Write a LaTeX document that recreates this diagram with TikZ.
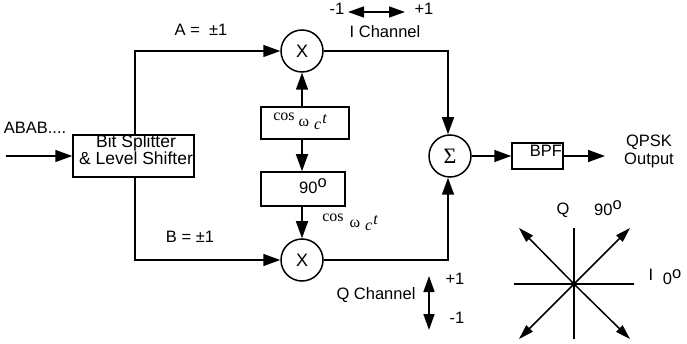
\documentclass[tikz,border=0pt]{standalone}
\usepackage{fontspec}
\setmainfont{Liberation Sans}
\newfontfamily\serifx{Liberation Serif}
\usetikzlibrary{arrows.meta,calc}
\newcommand{\coswc}[1]{{\serifx\fontsize{16}{16}\selectfont cos\hspace{#1}\raisebox{-6pt}{ω}\hspace{5pt}\raisebox{-9pt}{\itshape c}\hspace{1pt}\raisebox{-3pt}{\itshape t}}}
\newcommand{\dego}{\raisebox{5.5pt}{o}}
\tikzset{
  x=1pt,y=-1pt,
  every node/.style={font=\fontsize{16.5}{18}\selectfont},
  conn/.style={line width=1.5pt,-{Stealth[length=17pt,width=12pt,inset=0pt]}},
  dbl/.style={line width=1.5pt,{Stealth[length=16pt,width=11pt,inset=0pt]}-{Stealth[length=16pt,width=11pt,inset=0pt]}},
  ray/.style={line width=1.5pt,-{Stealth[length=15pt,width=9pt,inset=0pt]}},
  plain/.style={line width=1.5pt},
  circ/.style={circle,draw,line width=1.5pt,minimum size=42pt,inner sep=0pt},
  blockb/.style={rectangle,draw,line width=1.5pt,inner sep=0pt},
  lab/.style={inner sep=0pt},
}
\begin{document}
\begin{tikzpicture}
\useasboundingbox (0,0) rectangle (687,344);
\fill[white] (0,0) rectangle (687,344);
% blocks
\node[blockb,minimum width=121pt,minimum height=42pt] (split) at (133.5,156) {};
\node[lab,align=center,font=\fontsize{17.5}{18}\selectfont] (splittxt) at (136,150) {Bit Splitter\\[-1pt]\& Level Shifter};
\node[circ,font=\fontsize{18}{18}\selectfont] (mx1) at (302,51) {X};
\node[circ,font=\fontsize{18}{18}\selectfont] (mx2) at (302,260) {X};
\node[circ] (sum) at (450,156) {\serifx\fontsize{22}{22}\selectfont Σ};
\node[blockb,minimum width=88pt,minimum height=32pt] (cosb) at (305,123) {};
\node[blockb,minimum width=84pt,minimum height=34pt] (ph) at (303,189) {};
\node[blockb,minimum width=51pt,minimum height=26pt] (bpf) at (537.5,156) {};
\node[lab] (bpftxt) at (546,151) {BPF};
\node[lab] (phtxt) at (313,186) {90\dego};
\node[lab] (cos1) at (300,121) {\coswc{4pt}};
\node[lab] (cos2) at (350,222) {\coswc{6pt}};
% labels
\node[lab] (abab) at (35,128) {ABAB....};
\node[lab] (la) at (201,30) {A =\ \ ±1};
\node[lab] (lb) at (190,237) {B = ±1};
\node[lab] (m1) at (337,9) {-1};
\node[lab] (p1) at (424,9) {+1};
\node[lab] (ich) at (385,32) {I Channel};
\node[lab] (qch) at (376,295) {Q Channel};
\node[lab] (p2) at (455,279) {+1};
\node[lab] (m2) at (457,318) {-1};
\node[lab,align=center] (out) at (649,151) {QPSK\\Output};
\node[lab] (q) at (563,210) {Q};
\node[lab] (n90) at (608,208) {90\dego};
\node[lab] (ii) at (651,275) {I};
\node[lab] (n0) at (672,277) {0\dego};
% connectors
\coordinate (inp) at (6,156);
\coordinate (ca) at (135,51);
\coordinate (cb) at (135,260);
\coordinate (cr) at (448,51);
\coordinate (cq) at (448,260);
\coordinate (outp) at (605,156);
\coordinate (midx) at (302,156);
\draw[conn] (inp) -- (split.west);
\draw[conn] (split.north -| ca) -- (ca) -- (mx1.west);
\draw[conn] (split.south -| cb) -- (cb) -- (mx2.west);
\draw[conn] (cosb.north -| midx) -- (mx1.south);
\draw[conn] (cosb.south -| midx) -- (ph.north -| midx);
\draw[conn] (ph.south -| midx) -- (mx2.north);
\draw[conn] (mx1.east) -- (cr) -- (sum.north -| cr);
\draw[conn] (mx2.east) -- (cq) -- (sum.south -| cq);
\draw[conn] (sum.east) -- (bpf.west);
\draw[conn] (bpf.east) -- (outp);
% channel arrows
\coordinate (ia) at (348,12); \coordinate (ib) at (405,12);
\draw[dbl] (ia) -- (ib);
\coordinate (qa) at (429,276); \coordinate (qb) at (429,330);
\draw[dbl] (qa) -- (qb);
% constellation
\coordinate (o) at (574,284);
\coordinate (w) at (514,284); \coordinate (e) at (634,284);
\coordinate (nn) at (574,228); \coordinate (ss) at (574,339);
\coordinate (nw) at (519,228); \coordinate (ne) at (630,228);
\coordinate (sw) at (519,339); \coordinate (se) at (630,339);
\draw[plain] (w) -- (e);
\draw[plain] (nn) -- (ss);
\draw[ray] (o) -- (nw);
\draw[ray] (o) -- (ne);
\draw[ray] (o) -- (sw);
\draw[ray] (o) -- (se);
\end{tikzpicture}
\end{document}
